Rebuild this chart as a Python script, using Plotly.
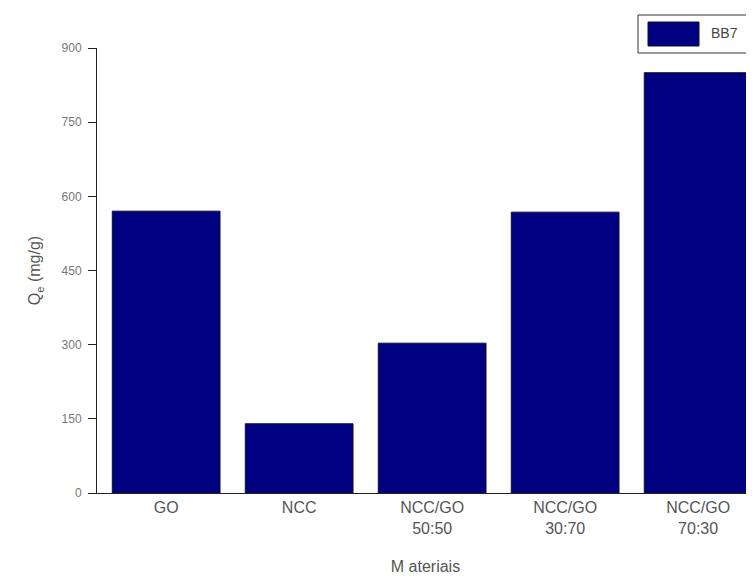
import plotly.graph_objects as go

categories = ["GO", "NCC", "NCC/GO<br>50:50", "NCC/GO<br>30:70", "NCC/GO<br>70:30"]
values = [570, 140, 303, 568, 850]
series_name = "BB7"
y_ticks = [0, 150, 300, 450, 600, 750, 900]

# page body has an 8px default margin; size the figure so the page is 754x576
W, H = 746, 568
L, T, B = 89, 40, 83
PW, PH = W - L, H - T - B  # plot area size (657 x 445)


def px_x(x):  # window pixel -> paper x
    return (x - 8 - L) / PW


def px_y(y):  # window pixel -> paper y
    return (H - B - (y - 8)) / PH


fig = go.Figure()
fig.add_trace(go.Bar(
    x=list(range(len(categories))), y=values, name=series_name,
    width=0.81,
    marker=dict(color="#000080", line=dict(color="#101030", width=1)),
    showlegend=False,
))

fig.update_layout(
    width=W, height=H,
    margin=dict(l=L, r=0, t=T, b=B),
    paper_bgcolor="white", plot_bgcolor="white",
    font=dict(family="Liberation Sans, Arial, sans-serif", color="#444"),
    xaxis=dict(
        range=[-0.52, 4.42],
        tickmode="array", tickvals=list(range(len(categories))), ticktext=categories,
        showline=True, linecolor="#222", linewidth=1,
        ticks="", showgrid=False, zeroline=False,
        tickfont=dict(size=16, color="#555"),
        title=dict(text="M ateriais", font=dict(size=16, color="#555"), standoff=24),
    ),
    yaxis=dict(
        range=[0, 900],
        tickmode="array", tickvals=y_ticks,
        showline=True, linecolor="#222", linewidth=1,
        ticks="outside", ticklen=8, tickcolor="#222",
        ticklabelstandoff=4,
        showgrid=False, zeroline=False,
        tickfont=dict(size=12, color="#777"),
        title=dict(text="Q<sub>e</sub> (mg/g)", font=dict(size=16, color="#555"), standoff=16),
    ),
)

# legend box (drawn manually to match the large swatch)
fig.add_shape(type="rect", xref="paper", yref="paper",
              x0=px_x(638), x1=px_x(770),
              y0=px_y(53), y1=px_y(15),
              line=dict(color="#333", width=1), fillcolor="white")
fig.add_shape(type="rect", xref="paper", yref="paper",
              x0=px_x(648), x1=px_x(699),
              y0=px_y(46), y1=px_y(22),
              line=dict(color="#101030", width=1), fillcolor="#000080")
fig.add_annotation(xref="paper", yref="paper",
                   x=px_x(709), y=px_y(33),
                   xanchor="left", yanchor="middle", showarrow=False,
                   text=series_name, font=dict(size=14, color="#444"))

fig.write_html("out.html")
